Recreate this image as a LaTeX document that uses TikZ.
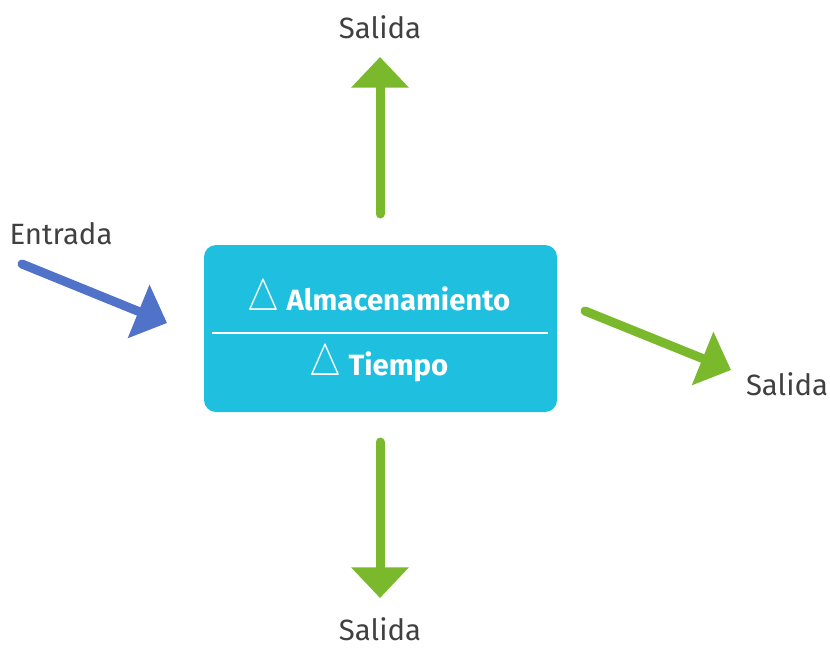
\documentclass[tikz,border=0pt]{standalone}
\usepackage{fontspec}
\setmainfont{Fira Sans}
\usetikzlibrary{arrows.meta}
\definecolor{boxblue}{HTML}{1FBFE0}
\definecolor{inblue}{HTML}{5072C8}
\definecolor{outgreen}{HTML}{7AB92B}
\definecolor{labelgray}{HTML}{404040}
\newcommand{\deltatri}{\raisebox{-0.5pt}{\scalebox{1.3}[1.6]{$\triangle$}}}
\tikzset{
  flow/.style={line width=6.75pt, line cap=round, -{Triangle[length=23pt,width=42pt]}},
  lbl/.style={text=labelgray, font=\fontsize{22}{26}\selectfont, inner sep=0pt},
  boxtext/.style={text=white, font=\bfseries\fontsize{22}{26}\selectfont, inner sep=0pt, anchor=base}
}
\begin{document}
\begin{tikzpicture}[x=0.75pt, y=-0.75pt]
\useasboundingbox (0,0) rectangle (830,647);
\node (box) at (380.5,328.5) [fill=boxblue, rounded corners=9pt, minimum width=264.75pt, minimum height=125.25pt] {};
\draw [white, line width=1.5pt] (212,333) -- (548,333);
\node (alm) at (379,310) [boxtext] {\deltatri\ Almacenamiento};
\node (tie) at (379,375) [boxtext] {\deltatri\ Tiempo};

\node (ent) at (61,234) [lbl] {Entrada};
\node (sup) at (380,27) [lbl] {Salida};
\node (sder) at (787,384) [lbl] {Salida};
\node (sinf) at (380,629) [lbl] {Salida};

\coordinate (e0) at (22,264);
\coordinate (e1) at (167,323);
\coordinate (u0) at (380,214);
\coordinate (u1) at (380,57);
\coordinate (d0) at (380,442);
\coordinate (d1) at (380,598);
\coordinate (r0) at (585,311);
\coordinate (r1) at (731,370);

\draw [flow, inblue] (e0) to (e1);
\draw [flow, outgreen] (u0) to (u1);
\draw [flow, outgreen] (d0) to (d1);
\draw [flow, outgreen] (r0) to (r1);
\end{tikzpicture}
\end{document}
